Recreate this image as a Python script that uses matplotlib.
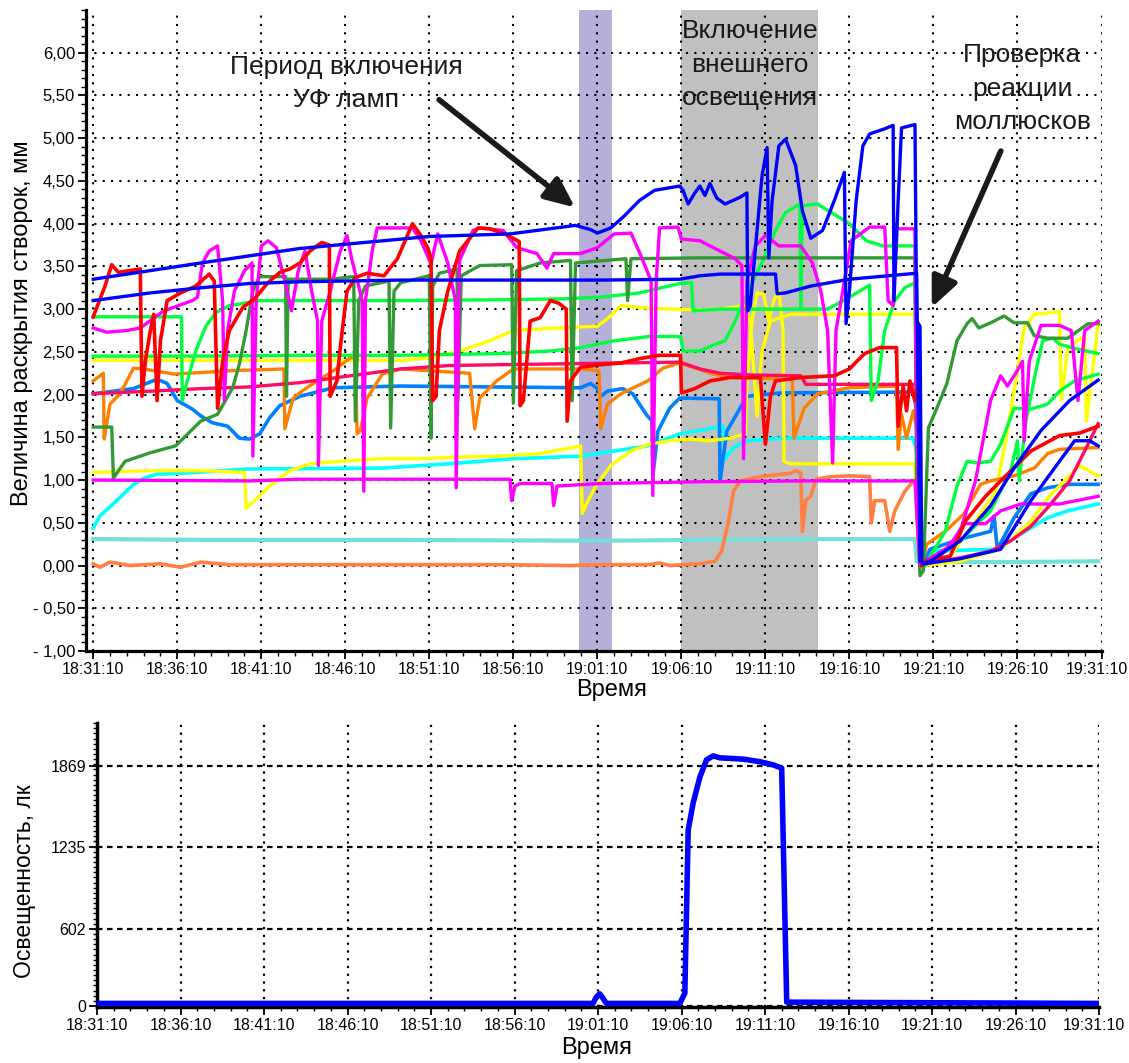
import matplotlib
matplotlib.use('Agg')
import matplotlib.pyplot as plt
import matplotlib.transforms as mtrans
from matplotlib.ticker import MultipleLocator

plt.rcParams['font.family'] = ['Liberation Sans', 'DejaVu Sans']

# ---------------- DATA (time: minutes after 18:31:10, value: mm) ----------------
x_tick_labels = ['18:31:10', '18:36:10', '18:41:10', '18:46:10', '18:51:10', '18:56:10',
                 '19:01:10', '19:06:10', '19:11:10', '19:16:10', '19:21:10', '19:26:10', '19:31:10']
y_top_ticks = [-1.0, -0.5, 0.0, 0.5, 1.0, 1.5, 2.0, 2.5, 3.0, 3.5, 4.0, 4.5, 5.0, 5.5, 6.0]
y_bot_ticks = [0, 602, 1235, 1869]

uv_period = [28.9, 30.9]
light_period = [35.0, 43.15]

t_blue_a = [0, 6.4, 12.3, 20.0, 24.8, 28.7, 29.6, 30.0, 30.8, 31.6, 32.5, 33.4, 34.3, 34.9, 35.1, 35.4, 35.8,
            36.1, 36.4, 36.7, 37.1, 37.6, 38.5, 38.9, 38.95, 39.1, 39.5, 39.8, 40.1, 40.2, 40.4, 40.8, 41.2,
            41.8, 42.2, 42.7, 43.4, 44.1, 44.7, 44.8, 45.0, 45.4, 45.8, 46.2, 47.1, 47.6, 47.65, 47.9, 48.1,
            48.9, 49.0, 49.2, 49.3, 49.4, 49.8, 51.6, 53.4, 54.8, 56.4, 58.1, 59.8]
v_blue_a = [3.35, 3.54, 3.71, 3.85, 3.88, 3.98, 3.93, 3.89, 3.95, 4.09, 4.27, 4.39, 4.42, 4.44, 4.39, 4.23, 4.36,
            4.44, 4.33, 4.47, 4.30, 4.23, 4.31, 4.36, 2.98, 3.04, 3.92, 4.56, 4.89, 3.60, 4.27, 4.91, 4.99,
            4.68, 4.15, 3.83, 3.92, 4.27, 4.60, 2.83, 3.21, 4.27, 4.91, 5.05, 5.11, 5.15, 3.10, 4.27, 5.12,
            5.16, 2.86, 2.80, 0.05, 0.02, 0.05, 0.29, 0.70, 1.14, 1.58, 1.93, 2.17]

t_blue_b = [0, 3.4, 6.4, 9.3, 12.3, 18.3, 24.2, 30.2, 34.9, 36.1, 37.3, 40.6, 40.7, 41.2, 42.7, 45.0, 49.0,
            49.2, 49.4, 51.6, 54.0, 55.8, 57.5, 58.4, 59.3, 59.8]
v_blue_b = [3.10, 3.19, 3.25, 3.30, 3.32, 3.34, 3.34, 3.34, 3.35, 3.39, 3.41, 3.41, 3.18, 3.19, 3.27, 3.35, 3.42,
            0.05, 0.02, 0.08, 0.19, 0.76, 1.22, 1.46, 1.46, 1.40]

t_red = [0, 0.7, 1.1, 1.5, 2.8, 2.9, 3.1, 3.4, 3.6, 3.8, 4.0, 4.4, 5.2, 6.1, 6.9, 7.2, 7.4, 7.7, 8.1, 8.9,
         9.6, 10.4, 11.1, 11.7, 12.3, 12.9, 13.6, 14.05, 14.1, 14.5, 14.7, 15.1, 15.6, 16.3, 17.3, 18.1, 19.0,
         19.5, 19.9, 20.1, 20.2, 20.4, 20.6, 21.1, 21.8, 22.9, 23.6, 24.5, 25.35, 25.4, 25.6, 26.0, 26.6,
         27.2, 27.7, 28.15, 28.2, 28.4, 29.0, 30.2, 31.4, 32.5, 33.7, 34.95, 35.0, 35.8, 36.7, 37.9, 39.7,
         40.0, 40.3, 40.6, 42.1, 44.1, 45.0, 45.9, 46.8, 47.8, 47.9, 48.2, 48.4, 48.6, 48.9, 49.1, 49.3,
         49.5, 51.0, 51.9, 53.1, 54.0, 55.8, 57.5, 58.7, 59.8]
v_red = [2.91, 3.27, 3.52, 3.43, 3.47, 1.98, 2.39, 2.75, 2.94, 1.93, 2.63, 3.10, 3.19, 3.27, 3.41, 3.33, 1.84,
         2.39, 2.75, 3.02, 3.12, 3.31, 3.43, 3.47, 3.54, 3.68, 3.78, 3.75, 1.98, 2.16, 2.55, 3.21, 3.37, 3.42,
         3.39, 3.59, 4.00, 3.86, 3.72, 3.59, 1.93, 1.98, 2.75, 3.21, 3.68, 3.95, 3.94, 3.88, 3.79, 1.87, 1.93,
         2.86, 2.90, 3.10, 3.07, 3.00, 1.69, 2.16, 2.32, 2.35, 2.37, 2.42, 2.46, 2.46, 2.02, 2.07, 2.16, 2.20,
         2.20, 1.42, 1.98, 2.16, 2.20, 2.22, 2.30, 2.48, 2.55, 2.55, 1.63, 2.10, 1.81, 2.16, 1.93, 2.10, 0.0,
         0.05, 0.11, 0.52, 0.81, 0.99, 1.34, 1.52, 1.55, 1.63]

t_crimson = [0, 3.4, 6.4, 9.3, 12.3, 15.3, 18.3, 21.2, 24.2, 27.8, 31.4, 34.9, 36.1, 37.3, 39.1, 42.1, 42.4,
             45.0, 48.9, 49.0, 49.2, 49.8, 51.6, 53.4, 54.6, 55.8, 56.9, 58.1, 59.0, 59.8]
v_crimson = [2.01, 2.04, 2.07, 2.09, 2.14, 2.22, 2.30, 2.34, 2.35, 2.36, 2.37, 2.38, 2.30, 2.25, 2.23, 2.22, 2.12,
             2.12, 2.12, 1.93, 0.0, 0.03, 0.09, 0.17, 0.29, 0.46, 0.70, 0.99, 1.34, 1.66]

t_magenta = [0, 0.8, 2.0, 2.8, 4.2, 5.9, 6.2, 6.5, 6.9, 7.4, 7.7, 7.8, 8.0, 8.4, 9.0, 9.45, 9.5, 9.7, 10.0,
             10.4, 10.9, 11.4, 11.8, 12.2, 12.6, 13.0, 13.35, 13.4, 13.6, 14.1, 14.7, 15.1, 15.4, 15.8, 16.0,
             16.1, 16.2, 16.6, 16.9, 18.3, 19.0, 19.5, 20.1, 20.5, 21.1, 21.55, 21.6, 21.8, 22.6, 23.0, 24.4,
             25.2, 26.4, 27.0, 27.4, 29.0, 30.0, 31.0, 32.0, 32.6, 33.2, 33.3, 33.5, 33.7, 34.8, 35.0, 36.1,
             37.3, 38.2, 38.6, 38.7, 38.9, 39.4, 40.0, 40.8, 42.1, 42.8, 43.3, 43.7, 44.0, 44.2, 44.6, 45.1,
             46.2, 47.1, 47.3, 47.6, 47.8, 48.9, 49.0, 49.3, 50.4, 51.6, 52.5, 53.4, 54.0, 54.4, 54.9, 55.3,
             55.4, 55.7, 56.4, 57.5, 58.2, 58.6, 59.0, 59.8]
v_magenta = [2.78, 2.73, 2.75, 2.78, 2.98, 3.10, 3.14, 3.54, 3.68, 3.74, 3.10, 1.93, 2.75, 3.21, 3.45, 3.54, 1.28,
             3.10, 3.74, 3.80, 3.72, 3.33, 2.98, 3.45, 3.68, 3.21, 2.86, 1.17, 2.86, 3.21, 3.68, 3.86, 3.57, 3.27,
             3.10, 0.87, 3.10, 3.68, 3.95, 3.95, 3.95, 3.80, 3.53, 3.88, 3.54, 3.10, 0.91, 3.57, 3.92, 3.95, 3.92,
             3.72, 3.65, 3.48, 3.65, 3.65, 3.72, 3.88, 3.89, 3.62, 3.33, 0.82, 3.33, 3.95, 3.96, 3.82, 3.80,
             3.68, 3.59, 3.51, 1.25, 3.33, 3.74, 3.86, 3.74, 3.74, 3.54, 3.21, 2.75, 1.20, 2.75, 3.21, 3.80,
             3.96, 3.96, 3.10, 3.04, 3.94, 3.94, 1.57, 0.0, 0.11, 0.40, 0.99, 1.93, 2.22, 2.10, 2.25, 2.39,
             1.46, 2.39, 2.81, 2.81, 2.75, 1.93, 2.75, 2.86]

t_magenta_low = [0, 9.3, 12.3, 18.3, 24.8, 24.9, 25.1, 25.4, 27.3, 27.4, 27.6, 30.2, 36.1, 42.1, 48.9, 49.1,
                 49.2, 49.5, 51.0, 51.8, 53.1, 54.0, 55.2, 57.5, 59.8]
v_magenta_low = [1.00, 0.99, 1.01, 1.01, 1.01, 0.76, 0.93, 0.96, 0.96, 0.70, 0.93, 0.96, 0.98, 0.99, 0.99, 0.29,
                 0.0, 0.05, 0.23, 0.49, 0.49, 0.64, 0.72, 0.72, 0.81]

t_dkgreen = [0, 1.1, 1.2, 1.5, 1.9, 3.4, 4.9, 6.4, 7.4, 8.3, 8.7, 9.1, 9.5, 9.9, 10.9, 11.45, 11.5, 11.6, 14.1,
             15.5, 15.6, 15.8, 16.2, 17.6, 17.7, 17.9, 18.3, 20.0, 20.1, 20.2, 20.6, 21.65, 21.7, 21.9, 23.0,
             24.9, 25.0, 25.2, 26.6, 28.4, 28.5, 28.7, 31.7, 31.8, 32.0, 36.1, 42.1, 48.9, 49.0, 49.2, 49.4,
             49.7, 50.2, 50.8, 51.4, 52.0, 52.3, 52.7, 53.4, 54.2, 54.8, 55.6, 56.0, 56.8, 58.0, 59.2, 59.8]
v_dkgreen = [1.62, 1.62, 1.02, 1.11, 1.22, 1.32, 1.40, 1.69, 1.77, 2.08, 2.36, 2.75, 3.21, 3.38, 3.38, 3.38, 1.98,
             3.35, 3.35, 3.38, 1.69, 3.10, 3.27, 3.33, 1.61, 3.21, 3.31, 3.39, 1.49, 3.27, 3.42, 3.47, 1.93, 3.39,
             3.51, 3.52, 1.90, 3.45, 3.54, 3.57, 1.93, 3.54, 3.59, 3.10, 3.59, 3.60, 3.60, 3.60, 0.75, -0.12,
             -0.06, 1.61, 1.84, 2.13, 2.63, 2.83, 2.89, 2.78, 2.84, 2.92, 2.84, 2.84, 2.69, 2.66, 2.66, 2.83,
             2.83]

t_green_a = [0, 5.25, 5.3, 5.6, 6.1, 6.7, 7.3, 8.1, 9.9, 12.3, 18.3, 24.2, 27.8, 30.2, 32.5, 34.9, 35.6, 35.7,
             37.3, 39.7, 42.1, 43.7, 45.0, 46.2, 46.3, 46.7, 47.1, 47.7, 48.3, 48.9, 49.0, 49.2, 49.5, 50.7,
             51.4, 52.0, 52.6, 53.4, 54.0, 54.8, 55.8, 56.8, 57.5, 58.4, 59.8]
v_green_a = [2.91, 2.91, 1.93, 2.16, 2.51, 2.80, 2.96, 3.04, 3.10, 3.10, 3.10, 3.11, 3.12, 3.14, 3.19, 3.30, 3.31,
             2.98, 3.00, 3.00, 3.00, 3.00, 3.14, 3.28, 1.93, 2.16, 2.75, 3.10, 3.25, 3.31, 1.69, 0.0, 0.0, 0.40,
             0.93, 1.22, 1.20, 1.22, 1.42, 1.84, 1.83, 1.89, 2.04, 2.16, 2.24]

t_green_b = [0, 6.4, 12.3, 18.3, 24.2, 27.2, 29.0, 31.0, 33.1, 34.95, 35.1, 36.1, 36.9, 37.6, 38.2, 38.9, 39.9,
             40.6, 41.2, 42.05, 42.1, 42.2, 43.1, 44.0, 45.0, 46.0, 47.0, 48.9, 49.0, 49.2, 49.5, 51.6, 53.4,
             54.6, 55.0, 55.1, 55.5, 56.1, 56.5, 57.1, 57.5, 58.4, 59.8]
v_green_b = [2.45, 2.45, 2.46, 2.46, 2.48, 2.51, 2.55, 2.63, 2.68, 2.68, 2.51, 2.51, 2.58, 2.63, 2.86, 3.18, 3.59,
             3.92, 4.13, 4.23, 3.02, 4.21, 4.23, 4.12, 4.00, 3.80, 3.74, 3.74, 1.93, 0.0, 0.0, 0.29, 0.64, 1.11,
             1.46, 0.99, 1.69, 2.28, 2.63, 2.66, 2.59, 2.54, 2.48]

t_yellow_a = [0, 12.3, 18.3, 20.1, 21.8, 23.6, 25.0, 27.8, 30.0, 30.8, 31.4, 33.1, 36.1, 37.3, 38.8, 39.1, 39.5,
              39.8, 40.3, 41.5, 48.9, 49.0, 49.2, 49.5, 51.0, 52.5, 53.7, 54.3, 54.8, 55.4, 56.0, 57.5, 57.6,
              58.0, 59.0, 59.1, 59.8]
v_yellow_a = [2.40, 2.40, 2.40, 2.43, 2.51, 2.63, 2.75, 2.78, 2.80, 2.92, 3.04, 3.01, 2.99, 3.00, 3.04, 2.86, 1.75,
              2.51, 2.86, 2.94, 2.94, 1.93, 0.0, 0.0, 0.11, 0.52, 0.87, 1.46, 2.04, 2.78, 2.94, 2.97, 1.93,
              2.55, 2.69, 1.69, 2.83]

t_yellow_b = [0, 3.4, 6.4, 9.0, 9.1, 9.6, 10.5, 11.7, 12.9, 14.7, 17.1, 19.5, 21.8, 24.2, 26.6, 29.0, 29.1, 29.3,
              29.9, 30.8, 32.0, 33.1, 34.3, 35.5, 36.7, 37.9, 38.8, 38.9, 39.2, 39.5, 39.9, 40.2, 40.5, 40.8,
              41.05, 41.1, 41.5, 45.0, 48.9, 49.0, 49.2, 49.5, 51.6, 54.0, 55.8, 56.9, 57.8, 58.7, 59.8]
v_yellow_b = [1.09, 1.11, 1.11, 1.09, 0.67, 0.76, 0.93, 1.11, 1.19, 1.22, 1.25, 1.25, 1.27, 1.28, 1.31, 1.40, 0.61,
              0.70, 0.93, 1.17, 1.34, 1.42, 1.46, 1.48, 1.46, 1.49, 1.54, 2.16, 2.86, 3.19, 3.17, 2.86, 3.10,
              3.21, 2.75, 1.22, 1.19, 1.19, 1.19, 0.52, 0.0, 0.0, 0.05, 0.19, 0.52, 0.81, 0.99, 1.17, 1.05]

t_orange = [0, 0.6, 0.65, 1.0, 1.6, 2.4, 3.0, 4.8, 8.3, 11.35, 11.4, 11.9, 12.7, 14.3, 15.3, 15.6, 15.7, 15.9,
            16.3, 17.2, 18.3, 22.4, 22.7, 23.0, 24.0, 25.0, 29.0, 30.1, 30.2, 30.6, 31.4, 33.0, 33.9, 34.9,
            36.9, 37.9, 41.6, 41.7, 42.3, 43.1, 45.0, 47.8, 47.9, 48.1, 48.4, 48.8, 49.0, 49.3, 49.6, 50.7,
            51.8, 52.8, 53.4, 54.8, 56.0, 56.8, 57.5, 59.8]
v_orange = [2.16, 2.25, 1.48, 1.89, 2.01, 2.31, 2.30, 2.24, 2.28, 2.30, 1.60, 1.96, 2.08, 2.28, 2.43, 2.43, 1.54,
            1.58, 1.96, 2.24, 2.30, 2.25, 1.60, 1.96, 2.16, 2.30, 2.30, 2.28, 1.60, 1.89, 2.01, 2.16, 2.31, 2.37,
            2.24, 2.20, 2.18, 1.49, 1.84, 2.01, 2.08, 2.10, 1.36, 1.77, 1.49, 1.81, 1.61, 0.0, 0.25, 0.40, 0.60,
            0.95, 0.99, 1.05, 1.14, 1.31, 1.36, 1.38]

t_coral = [0, 0.4, 1.0, 2.2, 4.0, 5.2, 6.4, 8.1, 12.3, 18.3, 24.2, 28.4, 30.2, 33.1, 33.7, 34.3, 36.1, 37.0,
           37.4, 37.8, 38.1, 38.5, 39.7, 41.5, 41.8, 42.1, 42.2, 42.4, 42.7, 43.0, 43.9, 45.0, 46.2, 46.3, 46.5,
           47.1, 47.4, 47.7, 48.3, 48.9, 49.1, 49.3]
v_coral = [0.02, -0.02, 0.04, 0.0, 0.02, -0.02, 0.04, 0.01, 0.01, 0.01, 0.01, 0.0, 0.01, 0.01, 0.03, 0.0, 0.02,
           0.05, 0.17, 0.52, 0.87, 0.99, 1.04, 1.08, 1.11, 1.08, 0.40, 0.76, 0.81, 1.01, 1.04, 1.05, 1.04, 0.50,
           0.76, 0.76, 0.40, 0.64, 0.87, 1.01, 0.52, 0.0]

t_azure = [0, 2.4, 3.8, 4.4, 5.0, 5.9, 6.4, 7.1, 8.0, 8.3, 8.7, 9.3, 9.9, 10.5, 11.1, 12.3, 14.3, 18.3, 29.0,
           29.6, 30.0, 30.2, 30.6, 31.5, 32.1, 32.9, 33.25, 33.3, 33.6, 34.3, 34.9, 37.25, 37.3, 37.7, 38.9,
           40.9, 48.8, 49.0, 49.3, 49.8, 51.6, 53.4, 53.6, 53.8, 54.8, 55.8, 56.8, 58.1, 59.8]
v_azure = [2.01, 2.07, 2.18, 2.13, 1.93, 1.83, 1.75, 1.67, 1.63, 1.57, 1.49, 1.48, 1.54, 1.73, 1.87, 1.98, 2.08,
           2.10, 2.08, 2.13, 2.07, 1.98, 2.04, 2.07, 2.01, 1.77, 1.69, 1.05, 1.57, 1.84, 1.96, 1.95, 0.99, 1.57,
           1.98, 2.02, 2.03, 1.81, 0.0, 0.19, 0.31, 0.40, 0.58, 0.19, 0.56, 0.84, 0.91, 0.95, 0.95]

t_cyan = [0, 0.4, 1.4, 2.4, 3.0, 3.8, 5.3, 9.3, 17.2, 21.1, 25.0, 29.0, 33.0, 34.9, 36.9, 37.5, 37.6, 38.1, 38.9,
          40.9, 48.8, 49.0, 49.3, 49.8, 53.8, 54.8, 55.8, 56.8, 58.0, 59.8]
v_cyan = [0.44, 0.58, 0.76, 0.95, 1.02, 1.07, 1.08, 1.13, 1.14, 1.19, 1.25, 1.28, 1.40, 1.54, 1.61, 1.63, 1.25,
          1.38, 1.46, 1.49, 1.49, 1.34, 0.0, 0.17, 0.19, 0.32, 0.44, 0.56, 0.64, 0.72]

t_turq = [0, 6.4, 18.3, 30.2, 36.1, 42.1, 48.9, 49.0, 49.5, 54.0, 59.8]
v_turq = [0.31, 0.30, 0.30, 0.29, 0.30, 0.31, 0.31, 0.05, 0.04, 0.04, 0.05]

# illuminance (lux)
t_lux = [0, 29.7, 29.9, 30.1, 30.3, 30.5, 34.9, 35.2, 35.4, 35.7, 36.1, 36.5, 36.9, 37.3, 38.7, 39.7, 40.5,
         41.0, 41.3, 60.0]
v_lux = [20, 20, 70, 95, 60, 20, 20, 100, 1370, 1580, 1780, 1915, 1945, 1930, 1920, 1900, 1875, 1850, 30, 20]

# ---------------- FIGURE ----------------
W, H = 1129, 1063
fig = plt.figure(figsize=(W / 100, H / 100), dpi=100)

ax = fig.add_axes([86 / W, 1 - 651 / H, (1101.5 - 86) / W, (651 - 10) / H])
ax.set_xlim(-0.43, 60.0)
ax.set_ylim(-1.0, 6.5)
ax.axvspan(uv_period[0], uv_period[1], color='#b4b0d8', lw=0, zorder=0.1)
ax.axvspan(light_period[0], light_period[1], color='#c0c0c0', lw=0, zorder=0.1)

series = [
    (t_turq, v_turq, '#70e0d8', 3.0),
    (t_coral, v_coral, '#ff8040', 2.6),
    (t_cyan, v_cyan, '#00ffff', 2.6),
    (t_azure, v_azure, '#0080ff', 2.6),
    (t_yellow_b, v_yellow_b, '#ffff00', 2.4),
    (t_yellow_a, v_yellow_a, '#ffff00', 2.4),
    (t_orange, v_orange, '#ff8000', 2.4),
    (t_crimson, v_crimson, '#ff0a64', 2.4),
    (t_green_b, v_green_b, '#00ff40', 2.4),
    (t_green_a, v_green_a, '#00ff40', 2.4),
    (t_dkgreen, v_dkgreen, '#339933', 2.4),
    (t_magenta_low, v_magenta_low, '#ff00ff', 2.4),
    (t_magenta, v_magenta, '#ff00ff', 2.4),
    (t_red, v_red, '#ff0000', 2.6),
    (t_blue_b, v_blue_b, '#0000ff', 2.4),
    (t_blue_a, v_blue_a, '#0000ff', 2.4),
]
for t, v, c, lw in series:
    ax.plot(t, v, color=c, lw=lw, solid_joinstyle='round', zorder=2)

ax.set_axisbelow(True)
ax.grid(True, which='major', color='black', linestyle=(0, (1, 3)), linewidth=1.5)
for s in ['top', 'right']:
    ax.spines[s].set_visible(False)
for s in ['left', 'bottom']:
    ax.spines[s].set_linewidth(2.3)
ax.set_xticks([5 * i for i in range(13)])
ax.set_xticklabels(x_tick_labels)
ax.xaxis.set_minor_locator(MultipleLocator(1))
ax.set_yticks(y_top_ticks)
ax.set_yticklabels([('- ' if y < 0 else '') + f"{abs(y):.2f}".replace('.', ',') for y in y_top_ticks])
ax.yaxis.set_minor_locator(MultipleLocator(0.1))
ax.tick_params(which='major', length=6, width=1.3, labelsize=11.5, pad=2, colors='black')
ax.tick_params(axis='y', which='major', labelsize=12)
ax.tick_params(which='minor', length=3.5, width=1.0)

txt_kw = dict(ha='center', va='center', fontsize=19, color='#1a1a1a', linespacing=1.5, zorder=5)
ax.text(15.06, 5.64, 'Период включения\nУФ ламп', **txt_kw)
ax.text(39.09, 5.86, 'Включение\nвнешнего\nосвещения', **txt_kw)
ax.text(55.28, 5.58, 'Проверка\nреакции\nмоллюсков', **txt_kw)

arr = dict(arrowstyle='-|>,head_length=0.9,head_width=0.4', lw=4, color='#1a1a1a',
           shrinkA=0, shrinkB=0, mutation_scale=20)
ax.annotate('', xy=(28.67, 4.19), xytext=(20.58, 5.45), arrowprops=arr, zorder=6)
ax.annotate('', xy=(49.9, 3.02), xytext=(54.01, 4.85), arrowprops=arr, zorder=6)

fig.text(22 / W, 1 - 323 / H, 'Величина раскрытия створок, мм', rotation=90,
         ha='center', va='center', fontsize=17)
fig.text(612 / W, 1 - 690 / H, 'Время', ha='center', va='center', fontsize=17)

# ---------------- bottom: illuminance ----------------
ax2 = fig.add_axes([97 / W, 1 - 1007 / H, (1099 - 97) / W, (1007 - 723) / H])
ax2.set_xlim(0, 60)
ax2.set_ylim(-7.8, 2201)
ax2.plot(t_lux, v_lux, color='#0000ff', lw=4, solid_joinstyle='round', zorder=3)
ax2.set_axisbelow(True)
ax2.xaxis.grid(True, color='black', linestyle=(0, (1, 2.5)), linewidth=1.6)
ax2.yaxis.grid(True, color='black', linestyle=(0, (2.5, 2)), linewidth=1.6)
for s in ['top', 'right']:
    ax2.spines[s].set_visible(False)
for s in ['left', 'bottom']:
    ax2.spines[s].set_linewidth(2.5)
ax2.set_xticks([5 * i for i in range(13)])
ax2.set_xticklabels(x_tick_labels)
ax2.xaxis.set_minor_locator(MultipleLocator(1))
ax2.set_yticks(y_bot_ticks)
ax2.set_yticklabels([str(y) for y in y_bot_ticks])
ax2.yaxis.set_minor_locator(MultipleLocator(40))
ax2.tick_params(which='major', length=6, width=1.3, labelsize=11.5, pad=2)
ax2.tick_params(which='minor', length=3, width=1.0)

fig.text(25 / W, 1 - 881 / H, 'Освещенность, лк', rotation=90, ha='center', va='center', fontsize=16.5)
fig.text(597 / W, 1 - 1048 / H, 'Время', ha='center', va='center', fontsize=17)

# keep the last time label inside the canvas
for a in (ax, ax2):
    lbl = a.get_xticklabels()[-1]
    lbl.set_transform(lbl.get_transform() + mtrans.ScaledTranslation(-0.05, 0, fig.dpi_scale_trans))

fig.savefig('out.png', dpi=100)
